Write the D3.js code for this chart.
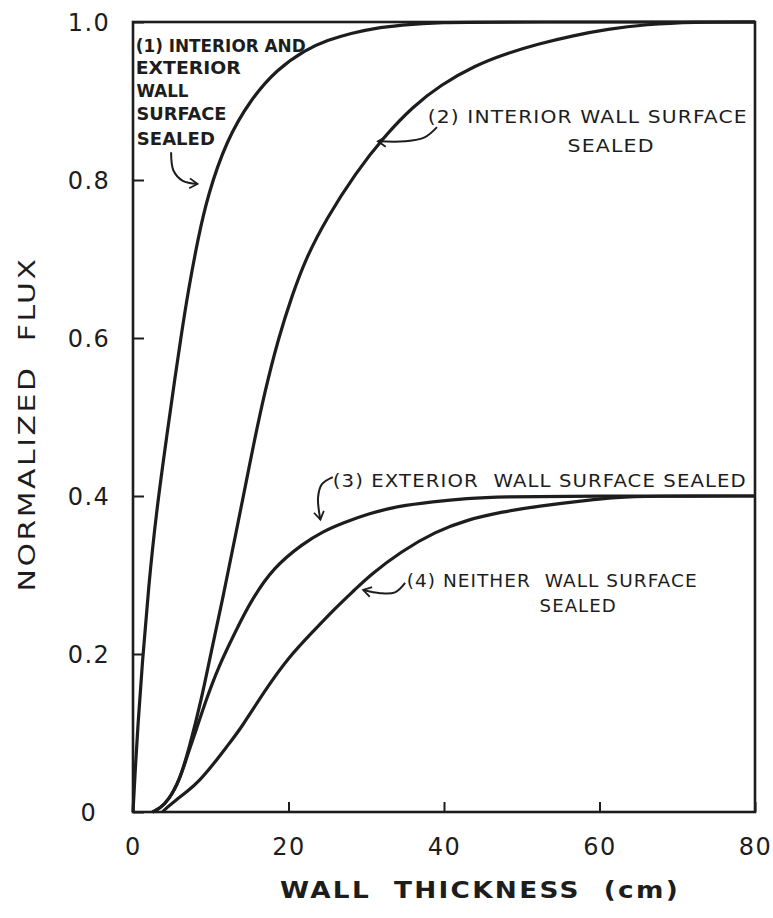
<!DOCTYPE html>
<html>
<head>
<meta charset="utf-8">
<script src="https://cdnjs.cloudflare.com/ajax/libs/d3/7.8.5/d3.min.js"></script>
<style>
  body { margin: 0; background: #fff; }
  text { fill: #1d1d1d; white-space: pre; }
</style>
</head>
<body>
<div id="wrapper"></div>
<script>
// tick values and labels
const xTicks = [0, 20, 40, 60, 80]
const yTicks = [0, 0.2, 0.4, 0.6, 0.8, 1.0]
const yTickLabels = ["0", "0.2", "0.4", "0.6", "0.8", "1.0"]

// series: [wall thickness (cm), normalized flux]
const bothSealed = [[0,0],[0.3,0.055],[0.6,0.105],[1.2,0.19],[2.0,0.285],[3.0,0.38],[4.4,0.48],[5.4,0.55],[6.2,0.603],[7.05,0.657],[8.4,0.728],[9.6,0.78],[12,0.85],[15.2,0.903],[18.5,0.94],[22.2,0.965],[25,0.977],[28.1,0.986],[31,0.992],[34.5,0.996],[38.8,1.0],[50,1.0],[80,1.0]]
const interiorSealed = [[2.5,0],[3.5,0.005],[4.5,0.014],[6,0.04],[7.2,0.08],[8.8,0.142],[10.1,0.205],[11.5,0.268],[12.8,0.332],[14,0.39],[15.5,0.465],[16.9,0.53],[18.7,0.6],[20.5,0.655],[22.2,0.70],[24.8,0.75],[28.7,0.81],[32.3,0.855],[36,0.893],[39.5,0.92],[44,0.945],[48,0.96],[52,0.972],[56.7,0.983],[61,0.991],[66,0.997],[72,1.0],[80,1.0]]
const exteriorSealed = [[2.5,0],[3.5,0.005],[4.5,0.014],[6,0.04],[7.2,0.078],[8,0.10],[9.4,0.142],[11,0.184],[13.1,0.227],[15.2,0.268],[18.1,0.31],[21.9,0.34],[24.4,0.355],[27,0.366],[30.4,0.378],[34,0.387],[38.6,0.393],[43,0.397],[47.2,0.399],[58,0.40],[80,0.40]]
const neitherSealed = [[3.8,0],[4.4,0.006],[5.5,0.015],[7,0.026],[8.6,0.04],[10.3,0.06],[12,0.082],[13.9,0.106],[16.9,0.153],[20,0.196],[23.4,0.231],[26,0.258],[28.6,0.282],[30.5,0.30],[34.5,0.33],[38.9,0.355],[43,0.37],[47.5,0.38],[52,0.387],[58.7,0.395],[62,0.398],[66,0.40],[80,0.40]]

// annotation text and leader arrows, anchored in data units
const noteLines = [
  {t: "(1) INTERIOR AND", x: 0.35, y: 0.962, w: 170, bold: true},
  {t: "EXTERIOR", x: 0.35, y: 0.934, w: 105, bold: true},
  {t: "WALL", x: 0.45, y: 0.905, w: 52, bold: true},
  {t: "SURFACE", x: 0.45, y: 0.876, w: 90, bold: true},
  {t: "SEALED", x: 0.5, y: 0.844, w: 78, bold: true},
  {t: "(2) INTERIOR WALL SURFACE", x: 37.9, y: 0.872, w: 320},
  {t: "SEALED", x: 55.9, y: 0.835, w: 87},
  {t: "(3) EXTERIOR  WALL SURFACE SEALED", x: 25.7, y: 0.411, w: 414},
  {t: "(4) NEITHER  WALL SURFACE", x: 35.2, y: 0.285, w: 291},
  {t: "SEALED", x: 52.3, y: 0.253, w: 77}
]
const arrow1 = [[4.9,0.835],[5.2,0.812],[6.4,0.799],[8.3,0.795]]
const arrow2 = [[39.1,0.867],[37.5,0.854],[35.0,0.849],[31.5,0.849]]
const arrow3 = [[25.7,0.424],[24.3,0.415],[23.8,0.398],[24.1,0.37]]
const arrow4 = [[35.0,0.29],[33.7,0.278],[31.8,0.277],[29.6,0.281]]

function drawChart() {
  let dimensions = {
    width: 773,
    height: 918,
    margin: { top: 22, right: 18, bottom: 106, left: 133 },
  }
  dimensions.boundedWidth = dimensions.width - dimensions.margin.left - dimensions.margin.right
  dimensions.boundedHeight = dimensions.height - dimensions.margin.top - dimensions.margin.bottom

  const ink = "#1d1d1d"

  const wrapper = d3.select("#wrapper")
    .append("svg")
    .attr("width", dimensions.width)
    .attr("height", dimensions.height)
    .style("background", "#fff")

  const defs = wrapper.append("defs")
  defs.append("marker")
    .attr("id", "head")
    .attr("viewBox", "-10 -6 12 12")
    .attr("refX", 0)
    .attr("refY", 0)
    .attr("markerWidth", 12)
    .attr("markerHeight", 12)
    .attr("markerUnits", "userSpaceOnUse")
    .attr("orient", "auto")
    .append("path")
    .attr("d", "M-8,-5 L0,0 L-8,5")
    .attr("fill", "none")
    .attr("stroke", ink)
    .attr("stroke-width", 1.8)

  const bounds = wrapper.append("g")
    .attr("transform", `translate(${dimensions.margin.left},${dimensions.margin.top})`)

  const xScaler = d3.scaleLinear()
    .domain([0, 80])
    .range([0, dimensions.boundedWidth])

  const yScaler = d3.scaleLinear()
    .domain([0, 1])
    .range([dimensions.boundedHeight, 0])

  // axes: inward ticks, labels below / left
  const xAxisGenerator = d3.axisBottom(xScaler)
    .tickValues(xTicks)
    .tickSizeInner(-10)
    .tickSizeOuter(0)
    .tickPadding(26)
    .tickFormat(d3.format("d"))

  const xAxis = bounds.append("g")
    .attr("transform", `translate(0,${dimensions.boundedHeight})`)
    .call(xAxisGenerator)
  xAxis.select(".domain").remove()
  xAxis.selectAll("line").attr("stroke", ink).attr("stroke-width", 2)
  xAxis.selectAll("text")
    .attr("font-family", "DejaVu Sans, sans-serif")
    .attr("font-size", 24)
    .attr("letter-spacing", 1.5)
    .attr("fill", ink)

  const yAxisGenerator = d3.axisLeft(yScaler)
    .tickValues(yTicks)
    .tickSizeInner(-11)
    .tickSizeOuter(0)
    .tickPadding(44)
    .tickFormat((d, i) => yTickLabels[i])

  const yAxis = bounds.append("g").call(yAxisGenerator)
  yAxis.select(".domain").remove()
  yAxis.selectAll("line").attr("stroke", ink).attr("stroke-width", 2)
  yAxis.selectAll("text")
    .attr("text-anchor", "middle")
    .attr("font-family", "DejaVu Sans, sans-serif")
    .attr("font-size", 24)
    .attr("letter-spacing", 1.5)
    .attr("fill", ink)
    .attr("dy", "0.36em")

  // frame
  bounds.append("rect")
    .attr("x", 0)
    .attr("y", 0)
    .attr("width", dimensions.boundedWidth)
    .attr("height", dimensions.boundedHeight)
    .attr("fill", "none")
    .attr("stroke", ink)
    .attr("stroke-width", 2.6)

  // curves
  const lineGenerator = d3.line()
    .x(d => xScaler(d[0]))
    .y(d => yScaler(d[1]))
    .curve(d3.curveBasis)

  const series = [bothSealed, interiorSealed, exteriorSealed, neitherSealed]
  bounds.selectAll(".curve")
    .data(series)
    .join("path")
    .attr("class", "curve")
    .attr("d", lineGenerator)
    .attr("fill", "none")
    .attr("stroke", ink)
    .attr("stroke-width", 3.2)
    .attr("stroke-linejoin", "round")

  // annotations
  bounds.selectAll(".note")
    .data(noteLines)
    .join("text")
    .attr("class", "note")
    .attr("x", d => xScaler(d.x))
    .attr("y", d => yScaler(d.y))
    .attr("font-family", "DejaVu Sans, sans-serif")
    .attr("font-size", d => d.bold ? 18 : 18)
    .attr("font-weight", d => d.bold ? 700 : 400)
    .attr("letter-spacing", d => d.bold ? 0 : 1)
    .attr("textLength", d => d.w)
    .attr("lengthAdjust", "spacingAndGlyphs")
    .attr("fill", ink)
    .text(d => d.t)

  const arrowLine = d3.line()
    .x(d => xScaler(d[0]))
    .y(d => yScaler(d[1]))
    .curve(d3.curveCatmullRom)

  bounds.selectAll(".arrow")
    .data([arrow1, arrow2, arrow3, arrow4])
    .join("path")
    .attr("class", "arrow")
    .attr("d", arrowLine)
    .attr("fill", "none")
    .attr("stroke", ink)
    .attr("stroke-width", 2)
    .attr("marker-end", "url(#head)")

  // axis titles
  wrapper.append("text")
    .attr("x", 480)
    .attr("y", 898)
    .attr("text-anchor", "middle")
    .attr("font-family", "DejaVu Sans, sans-serif")
    .attr("font-size", 23)
    .attr("font-weight", 700)
    .attr("letter-spacing", 2)
    .attr("textLength", 400)
    .attr("lengthAdjust", "spacingAndGlyphs")
    .attr("fill", ink)
    .text("WALL  THICKNESS  (cm)")

  wrapper.append("text")
    .attr("transform", "translate(35,424) rotate(-90)")
    .attr("text-anchor", "middle")
    .attr("font-family", "DejaVu Sans, sans-serif")
    .attr("font-size", 23)
    .attr("letter-spacing", 2)
    .attr("textLength", 335)
    .attr("lengthAdjust", "spacingAndGlyphs")
    .attr("fill", ink)
    .text("NORMALIZED  FLUX")
}
drawChart()
</script>
</body>
</html>
